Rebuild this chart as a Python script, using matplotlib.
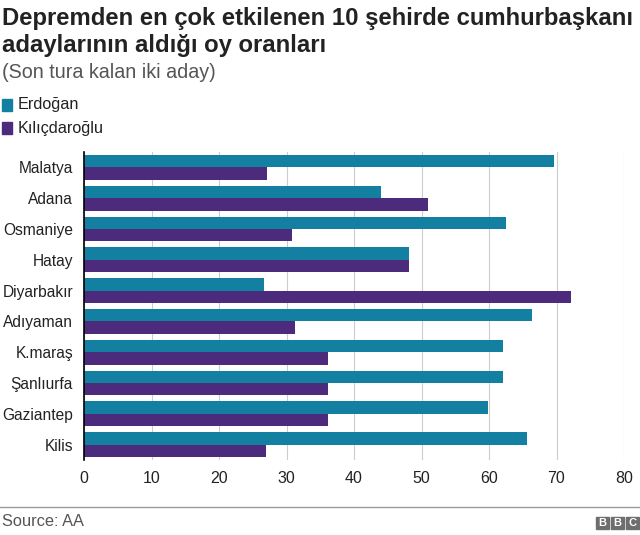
import matplotlib.pyplot as plt
import numpy as np
from matplotlib.patches import Rectangle

plt.rcParams['font.family'] = ['Liberation Sans', 'DejaVu Sans']

cities = ['Malatya', 'Adana', 'Osmaniye', 'Hatay', 'Diyarbakır', 'Adıyaman',
          'K.maraş', 'Şanlıurfa', 'Gaziantep', 'Kilis']
erdogan = [69.6, 44.0, 62.5, 48.2, 26.6, 66.3, 62.1, 62.1, 59.9, 65.7]
kilicdaroglu = [27.1, 51.0, 30.8, 48.2, 72.1, 31.3, 36.2, 36.2, 36.2, 27.0]
xticks = [0, 10, 20, 30, 40, 50, 60, 70, 80]

teal = '#1380A1'
purple = '#4C2A7C'

fig = plt.figure(figsize=(6.4, 5.35), dpi=100)
ax = fig.add_axes([84 / 640, 1 - 460 / 535, 540 / 640, 308 / 535])

y = np.arange(len(cities))
h = 0.4
ax.barh(y - h / 2, erdogan, height=h, color=teal, zorder=3)
ax.barh(y + h / 2, kilicdaroglu, height=h, color=purple, zorder=3)

ax.set_ylim(len(cities) - 0.5, -0.5)
ax.set_xlim(0, 80)
ax.set_yticks(y)
ax.set_yticklabels(cities, fontsize=11.2, color='#222222')
ax.set_xticks(xticks)
ax.set_xticklabels([str(t) for t in xticks], fontsize=11.5, color='#222222')
ax.tick_params(axis='both', length=0)
ax.tick_params(axis='x', pad=8)
ax.tick_params(axis='y', pad=8)
ax.grid(axis='x', color='#cccccc', linewidth=0.8, zorder=0)
for s in ['top', 'right', 'bottom']:
    ax.spines[s].set_visible(False)
ax.spines['left'].set_color('black')
ax.spines['left'].set_linewidth(1.2)
ax.spines['left'].set_zorder(4)

# titles
fig.text(2 / 640, 1 - 7 / 535, 'Depremden en çok etkilenen 10 şehirde cumhurbaşkanı\nadaylarının aldığı oy oranları',
         fontsize=17.2, fontweight='bold', color='#222222', va='top', ha='left', linespacing=1.2)
fig.text(2 / 640, 1 - 72 / 535, '(Son tura kalan iki aday)', fontsize=14.2, color='#555555',
         va='center', ha='left')

# legend
for i, (lab, col) in enumerate([('Erdoğan', teal), ('Kılıçdaroğlu', purple)]):
    yc = 105 + i * 23
    fig.patches.append(Rectangle((2 / 640, 1 - (yc + 6) / 535), 10 / 640, 12 / 535,
                                 transform=fig.transFigure, color=col))
    fig.text(18 / 640, 1 - yc / 535, lab, fontsize=11.7, color='#222222', va='center', ha='left')

# footer
fig.add_artist(plt.Line2D([0, 1], [1 - 507 / 535, 1 - 507 / 535], transform=fig.transFigure,
                          color='#999999', linewidth=1))
fig.text(2 / 640, 1 - 522 / 535, 'Source: AA', fontsize=11.8, color='#555555', va='center', ha='left')
for i, letter in enumerate('BBC'):
    x0 = 596 + i * 15
    fig.patches.append(Rectangle((x0 / 640, 1 - 529 / 535), 13 / 640, 12 / 535,
                                 transform=fig.transFigure, color='#6e6e6e'))
    fig.text((x0 + 6.5) / 640, 1 - 523 / 535, letter, fontsize=8, fontweight='bold',
             color='white', va='center', ha='center')

plt.savefig('out.png', dpi=100)
plt.close(fig)
